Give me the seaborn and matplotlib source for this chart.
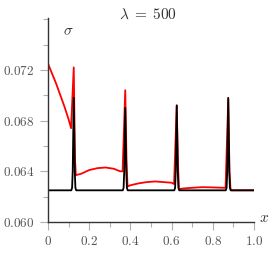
import matplotlib
matplotlib.use("Agg")
import matplotlib.pyplot as plt
import seaborn as sns
import pandas as pd
from matplotlib.ticker import MultipleLocator

sns.set_style("ticks")
plt.rcParams["mathtext.fontset"] = "cm"
plt.rcParams["font.family"] = ["DejaVu Serif", "DejaVu Sans"]

# black curve (lambda = 500 reference)
black_x = [0.0, 0.113, 0.117, 0.120, 0.125, 0.130, 0.133, 0.137,
           0.363, 0.367, 0.370, 0.375, 0.380, 0.383, 0.387,
           0.613, 0.617, 0.620, 0.625, 0.630, 0.633, 0.637,
           0.863, 0.867, 0.870, 0.875, 0.880, 0.883, 0.887, 1.0]
black_y = [0.0625, 0.0625, 0.0627, 0.0640, 0.0698, 0.0640, 0.0627, 0.0625,
           0.0625, 0.0627, 0.0640, 0.0690, 0.0640, 0.0627, 0.0625,
           0.0625, 0.0627, 0.0640, 0.0692, 0.0640, 0.0627, 0.0625,
           0.0625, 0.0627, 0.0640, 0.0698, 0.0640, 0.0627, 0.0625, 0.0625]

# red curve
red_x = [0.0, 0.02, 0.04, 0.06, 0.08, 0.10, 0.112, 0.125, 0.131, 0.135,
         0.16, 0.20, 0.24, 0.28, 0.32, 0.35, 0.362, 0.375, 0.381, 0.386,
         0.40, 0.44, 0.48, 0.52, 0.56, 0.60, 0.612, 0.625, 0.631, 0.636,
         0.66, 0.70, 0.75, 0.80, 0.85, 0.862, 0.875, 0.881, 0.886, 0.89, 1.0]
red_y = [0.0725, 0.0717, 0.0709, 0.0700, 0.0691, 0.0681, 0.0674, 0.0722, 0.0650, 0.0637,
         0.0638, 0.0641, 0.06425, 0.0643, 0.0642, 0.0640, 0.0640, 0.0704, 0.0650, 0.0628,
         0.0629, 0.06305, 0.06315, 0.0632, 0.06315, 0.0631, 0.0630, 0.0692, 0.0645, 0.0626,
         0.06265, 0.0627, 0.06275, 0.06273, 0.0627, 0.0627, 0.0697, 0.0640, 0.0626, 0.0625, 0.0625]

y_ticks = [0.060, 0.064, 0.068, 0.072]
y_tick_labels = ["$0.060$", "$0.064$", "$0.068$", "$0.072$"]
x_ticks = [0.0, 0.2, 0.4, 0.6, 0.8, 1.0]
x_tick_labels = ["$0$", "$0.2$", "$0.4$", "$0.6$", "$0.8$", "$1.0$"]

df_black = pd.DataFrame({"x": black_x, "y": black_y})
df_red = pd.DataFrame({"x": red_x, "y": red_y})

fig = plt.figure(figsize=(2.76, 2.56), dpi=100)
ax = fig.add_axes([48 / 276, 1 - 222 / 256, 206 / 276, 204 / 256])

sns.lineplot(data=df_red, x="x", y="y", ax=ax, color="#ff0000", lw=1.3, sort=False)
sns.lineplot(data=df_black, x="x", y="y", ax=ax, color="#000000", lw=1.3, sort=False)

ax.set_xlim(0, 1.0)
ax.set_ylim(0.060, 0.0761)
ax.set_xticks(x_ticks)
ax.set_xticklabels(x_tick_labels)
ax.set_yticks(y_ticks)
ax.set_yticklabels(y_tick_labels)
ax.xaxis.set_minor_locator(MultipleLocator(0.1))
ax.yaxis.set_minor_locator(MultipleLocator(0.002))
ax.tick_params(which="major", length=5.5, width=0.8, color="#b0b0b0",
               labelsize=9.5, labelcolor="#555555", pad=4)
ax.tick_params(which="minor", length=3.5, width=0.8, color="#b0b0b0")
ax.set_xlabel("")
ax.set_ylabel("")
for s in ["top", "right"]:
    ax.spines[s].set_visible(False)
for s in ["left", "bottom"]:
    ax.spines[s].set_color("#333333")
    ax.spines[s].set_linewidth(1.0)

fig.text(148 / 276, 1 - 15 / 256, r"$\lambda\;=\;500$", ha="center", va="center",
         fontsize=11, color="#333333")
fig.text(68 / 276, 1 - 31 / 256, r"$\sigma$", ha="center", va="center",
         fontsize=11, color="#333333")
fig.text(264 / 276, 1 - 218 / 256, r"$x$", ha="center", va="center",
         fontsize=11, color="#333333")

fig.savefig("out.png", dpi=100)
